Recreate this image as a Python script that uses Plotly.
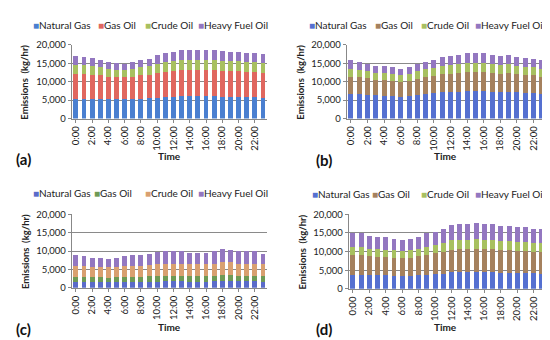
import plotly.graph_objects as go

hours = [f"{h}:00" for h in range(24)]
tick_hours = hours[::2]
series_names = ["Natural Gas", "Gas Oil", "Crude Oil", "Heavy Fuel Oil"]

# Panel (a)
a_ng = [5400,5400,5300,5300,5200,5200,5200,5300,5400,5500,5700,5800,5900,6000,6000,6000,6000,6000,5900,5900,5900,5800,5800,5700]
a_go = [6800,6700,6600,6400,6200,6000,6000,6100,6300,6400,6700,6900,7000,7200,7200,7200,7200,7200,7100,7000,7000,6900,6900,6800]
a_co = [2400,2400,2300,2200,2100,2000,2000,2100,2200,2300,2500,2600,2700,2800,2800,2800,2800,2800,2700,2700,2700,2600,2600,2600]
a_hfo = [2400,2300,2300,2100,2000,1800,1700,1800,1900,2100,2300,2400,2500,2700,2700,2700,2600,2600,2700,2600,2500,2600,2600,2500]

# Panel (b)
b_ng = [6800,6700,6500,6300,6200,6100,5900,6100,6400,6700,6900,7100,7200,7300,7400,7400,7400,7300,7200,7300,7100,7000,6900,6800]
b_go = [4600,4500,4400,4300,4300,4200,4000,4200,4400,4600,4700,4900,5000,5000,5200,5200,5200,5000,5000,5000,4900,4800,4800,4600]
b_co = [2100,2100,2000,1900,1900,1900,1800,1900,2000,2100,2200,2300,2300,2400,2500,2500,2500,2400,2300,2400,2300,2300,2200,2100]
b_hfo = [2300,2200,2000,1900,1800,1700,1700,1700,2100,2100,2200,2500,2600,2600,2700,2700,2700,2600,2500,2600,2500,2400,2400,2300]

# Panel (c)
c_ng = [1600,1600,1500,1500,1500,1500,1600,1600,1600,1700,1700,1800,1800,1800,1700,1700,1700,1800,1900,1900,1800,1800,1800,1700]
c_go = [1400,1400,1400,1400,1300,1400,1400,1400,1400,1500,1500,1500,1500,1500,1500,1500,1500,1500,1600,1600,1500,1500,1500,1500]
c_co = [3000,2900,2800,2800,2800,2800,2900,3000,3000,3100,3200,3300,3300,3300,3200,3200,3200,3300,3500,3400,3300,3300,3300,3200]
c_hfo = [2800,2700,2400,2400,2200,2400,2700,2800,2800,3000,3300,3300,3300,3300,3100,3100,3100,3300,3500,3400,3300,3300,3300,2900]

# Panel (d)
d_ng = [3800,3800,3700,3600,3600,3500,3500,3500,3600,3800,3900,4100,4400,4400,4400,4500,4400,4400,4300,4300,4300,4300,4200,4100]
d_go = [5400,5400,5100,5000,5000,4900,4800,4900,5100,5400,5600,5800,6100,6200,6200,6300,6200,6200,6100,6000,5900,5900,5800,5800]
d_co = [2100,2100,2000,2000,1900,1900,1800,1900,2000,2100,2200,2300,2500,2600,2600,2600,2600,2600,2500,2500,2400,2400,2300,2300]
d_hfo = [3600,3600,3400,3300,3300,3200,3100,3200,3300,3600,3600,3900,4100,4100,4100,4200,4100,4100,4000,4000,4000,4000,3800,3800]

y_ticks = [0, 5000, 10000, 15000, 20000]
y_ticktext = ["0", "5,000", "10,000", "15,000", "20,000"]

panels = [
    dict(label="(a)", data=[a_ng, a_go, a_co, a_hfo],
         colors=["#4A7FD0", "#E0675F", "#A8C060", "#9377C0"],
         xdom=[62/550, 258/550], ydom=[1-108/340, 1-32/340],
         leg_y=11, leg_x=[21, 86, 133, 187], ytitle_x=15, time_xy=(160, 147), lab_xy=(4, 150)),
    dict(label="(b)", data=[b_ng, b_go, b_co, b_hfo],
         colors=["#5570D0", "#A5815E", "#A8C060", "#9377C0"],
         xdom=[338/550, 538/550], ydom=[1-108/340, 1-32/340],
         leg_y=11, leg_x=[298, 364, 410, 465], ytitle_x=292, time_xy=(437, 147), lab_xy=(305, 151)),
    dict(label="(c)", data=[c_ng, c_go, c_co, c_hfo],
         colors=["#5A6BC9", "#6E9A55", "#D9A070", "#9377C0"],
         xdom=[62/550, 258/550], ydom=[1-283/340, 1-207/340],
         leg_y=185, leg_x=[21, 82, 133, 187], ytitle_x=15, time_xy=(160, 323), lab_xy=(4, 326)),
    dict(label="(d)", data=[d_ng, d_go, d_co, d_hfo],
         colors=["#5570D0", "#A5815E", "#A8C060", "#9377C0"],
         xdom=[340/550, 538/550], ydom=[1-284/340, 1-207/340],
         leg_y=186, leg_x=[301, 361, 410, 465], ytitle_x=294, time_xy=(437, 323), lab_xy=(305, 326)),
]

FONT = "Lato, 'Open Sans', sans-serif"
W, H = 550, 340

fig = go.Figure()
annotations = []
layout_axes = {}

for i, p in enumerate(panels):
    n = i + 1
    xa = "x" if n == 1 else f"x{n}"
    ya = "y" if n == 1 else f"y{n}"
    for name, vals, col in zip(series_names, p["data"], p["colors"]):
        fig.add_trace(go.Bar(x=hours, y=vals, name=name, marker=dict(color=col, line=dict(width=0)),
                             xaxis=xa, yaxis=ya, showlegend=False))
    xkey = "xaxis" if n == 1 else f"xaxis{n}"
    ykey = "yaxis" if n == 1 else f"yaxis{n}"
    layout_axes[xkey] = dict(domain=p["xdom"], anchor=ya, type="category",
                             tickvals=tick_hours, ticktext=tick_hours, tickangle=-90,
                             tickfont=dict(size=9.5, color="#222", family=FONT),
                             showline=True, linecolor="#888", linewidth=1,
                             ticks="outside", ticklen=3, tickcolor="#888",
                             showgrid=False, fixedrange=True)
    layout_axes[ykey] = dict(domain=p["ydom"], anchor=xa, range=[0, 20000],
                             tickvals=y_ticks, ticktext=y_ticktext,
                             tickfont=dict(size=9.5, color="#222", family=FONT),
                             showline=True, linecolor="#888", linewidth=1,
                             ticks="outside", ticklen=3, tickcolor="#888",
                             showgrid=True, gridcolor="#8a8a8a", gridwidth=1,
                             zeroline=False, fixedrange=True)
    # Legend as text annotations
    for name, col, lx in zip(series_names, p["colors"], p["leg_x"]):
        annotations.append(dict(
            x=lx/W, y=1-p["leg_y"]/H, xref="paper", yref="paper",
            xanchor="left", yanchor="middle", showarrow=False,
            text=f"<span style='color:{col}'>■</span>{name}",
            font=dict(size=10, color="#222", family=FONT)))
    # y-axis title
    yd = p["ydom"]
    annotations.append(dict(
        x=p["ytitle_x"]/W, y=(yd[0]+yd[1])/2, xref="paper", yref="paper",
        xanchor="center", yanchor="middle", showarrow=False, textangle=-90,
        text="<b>Emissions  (kg/hr)</b>", font=dict(size=9.5, color="#222", family=FONT)))
    # x-axis title
    tx, ty = p["time_xy"]
    annotations.append(dict(
        x=tx/W, y=1-ty/H, xref="paper", yref="paper",
        xanchor="center", yanchor="middle", showarrow=False,
        text="<b>Time</b>", font=dict(size=10, color="#222", family=FONT)))
    # panel label
    lx, ly = p["lab_xy"]
    annotations.append(dict(
        x=lx/W, y=1-ly/H, xref="paper", yref="paper",
        xanchor="left", yanchor="middle", showarrow=False,
        text=f"<b>{p['label']}</b>", font=dict(size=15, color="#111", family=FONT)))

fig.update_layout(
    width=W, height=H,
    margin=dict(l=0, r=0, t=0, b=0),
    paper_bgcolor="white", plot_bgcolor="white",
    barmode="stack", bargap=0.4,
    annotations=annotations,
    font=dict(family=FONT),
    **layout_axes,
)

fig.write_html("out.html")
